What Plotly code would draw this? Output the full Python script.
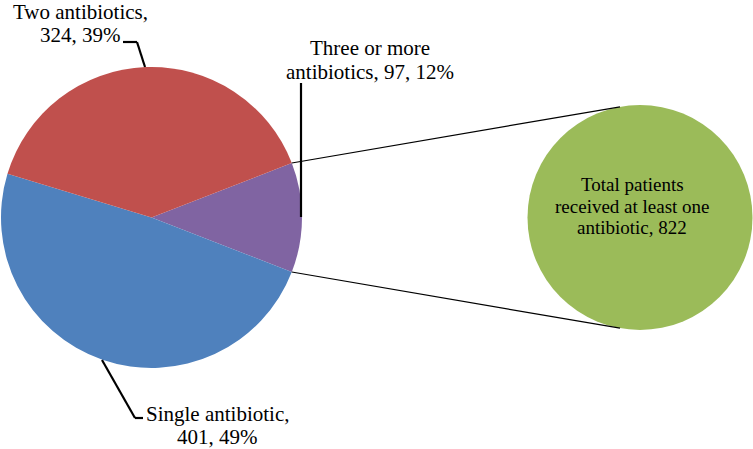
import math
import plotly.graph_objects as go

# ---- data ----
categories = ["Three or more antibiotics", "Single antibiotic", "Two antibiotics"]
counts = [97, 401, 324]
colors = ["#8064A2", "#4F81BD", "#C0504D"]
total_label = "Total patients received at least one antibiotic"
total_count = 822
total_color = "#9BBB59"

label_lines = {
    "Two antibiotics": ["Two antibiotics,", "324, 39%"],
    "Three or more antibiotics": ["Three or more", "antibiotics, 97, 12%"],
    "Single antibiotic": ["Single antibiotic,", "401, 49%"],
}
total_lines = ["Total patients", "received at least one", "antibiotic, 822"]

W, H = 753, 449
FONT = "Times New Roman, Liberation Serif, DejaVu Serif, serif"

def px(x):
    return x / W

def py(y):
    return 1 - y / H

# pie geometry (pixels)
cx1, cy1, r1 = 151.5, 217.5, 150.5
cx2, cy2, r2 = 640.0, 217.5, 112.5

half = 180.0 * counts[0] / sum(counts)  # half-angle of the purple slice

fig = go.Figure()
fig.add_trace(go.Pie(
    labels=categories, values=counts, sort=False, direction="clockwise",
    rotation=90 - half, textinfo="none", hoverinfo="label+value+percent",
    marker=dict(colors=colors, line=dict(width=0)),
    domain=dict(x=[px(cx1 - r1), px(cx1 + r1)], y=[py(cy1 + r1), py(cy1 - r1)]),
    showlegend=False,
))
fig.add_trace(go.Pie(
    labels=[total_label], values=[total_count], textinfo="none",
    marker=dict(colors=[total_color], line=dict(width=0)),
    domain=dict(x=[px(cx2 - r2), px(cx2 + r2)], y=[py(cy2 + r2), py(cy2 - r2)]),
    showlegend=False,
))

shapes = []
def line(x0, y0, x1, y1, w=1.0):
    shapes.append(dict(type="line", xref="paper", yref="paper",
                       x0=px(x0), y0=py(y0), x1=px(x1), y1=py(y1),
                       line=dict(color="black", width=w)))

# connector lines from purple slice edges to the total circle
a = math.radians(half)
ex, ey_top, ey_bot = cx1 + r1 * math.cos(a), cy1 - r1 * math.sin(a), cy1 + r1 * math.sin(a)
tx = 620
ty_top = cy2 - math.sqrt(r2**2 - (tx - cx2) ** 2)
ty_bot = cy2 + math.sqrt(r2**2 - (tx - cx2) ** 2)
line(ex, ey_top, tx, ty_top, 1.2)
line(ex, ey_bot, tx, ty_bot, 1.2)

# leader lines
line(145, 67, 137, 42, 2.2); line(137, 42, 123, 42, 2.2)
line(301, 83, 301, 217, 2.2)
line(102, 360, 135, 418, 2.2); line(135, 418, 143, 418, 2.2)

annotations = []
def text_lines(lines, x, ys, size):
    for t, y in zip(lines, ys):
        annotations.append(dict(text=t, x=px(x), y=py(y), xref="paper", yref="paper",
                                xanchor="center", yanchor="middle", showarrow=False,
                                font=dict(family=FONT, size=size, color="black")))

text_lines(label_lines["Two antibiotics"], 80.5, [12.5, 35], 21)
text_lines(label_lines["Three or more antibiotics"], 369.5, [48.5, 71.5], 21)
text_lines(label_lines["Single antibiotic"], 217, [413.5, 436.5], 21)
text_lines(total_lines, 632, [184.5, 206, 227], 19)

fig.update_layout(width=W, height=H, margin=dict(l=0, r=0, t=0, b=0),
                  paper_bgcolor="white", plot_bgcolor="white",
                  font=dict(family=FONT),
                  shapes=shapes, annotations=annotations)
fig.write_html("out.html", config={"displayModeBar": False},
               post_script="document.body.style.margin='0';document.body.style.overflow='hidden';")
